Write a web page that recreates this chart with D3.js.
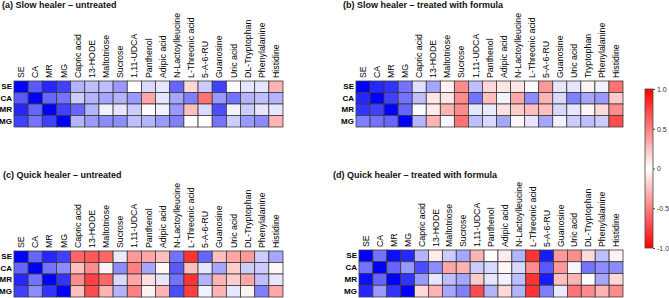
<!DOCTYPE html>
<html><head><meta charset="utf-8">
<script src="https://cdn.jsdelivr.net/npm/d3@7"></script>
<style>
html,body{margin:0;padding:0;background:#fff;}
svg{display:block;font-family:"Liberation Sans",Arial,sans-serif;}
</style></head>
<body><svg id="c" width="669" height="298"></svg>
<script>
const rows = ["SE","CA","MR","MG"];
const colsA = ["SE","CA","MR","MG","Capric acid","13-HODE","Maltotriose","Sucrose","1,11-UDCA","Panthenol","Adipic acid","N-Lactoylleucine","L-Threonic acid","5-A-6-RU","Guanosine","Uric acid","DL-Tryptophan","Phenylalanine","Histidine"];
const colsB = ["SE","CA","MR","MG","Capric acid","13-HODE","Maltotriose","Sucrose","1,11-UDCA","Panthenol","Adipic acid","N-Lactoylleucine","L-Threonic acid","5-A-6-RU","Guanosine","Uric acid","Tryptophan","Phenylalanine","Histidine"];
const titles = ["(a) Slow healer \u2013 untreated","(b) Slow healer \u2013 treated with formula","(c) Quick healer \u2013 untreated","(d) Quick healer \u2013 treated with formula"];

// correlation values (positive = blue, negative = red)
const valuesA = [
 [1.0,0.65,0.85,0.75,0.3,0.25,0.25,0.4,0.0,0.15,0.1,0.6,-0.15,0.2,0.75,0.02,0.1,0.1,-0.3],
 [0.65,1.0,0.6,0.55,0.2,0.3,0.35,0.3,0.4,-0.35,0.1,0.35,0.5,-0.55,0.4,0.55,0.3,0.25,0.3],
 [0.85,0.6,1.0,0.75,0.6,0.3,0.05,0.1,0.2,-0.02,0.05,0.4,-0.25,0.15,0.7,0.05,0.2,0.1,0.1],
 [0.75,0.55,0.75,1.0,0.3,0.4,0.45,0.45,0.25,0.3,0.4,0.5,0.0,0.0,0.55,0.2,0.4,0.45,-0.3]
];
const valuesB = [
 [1.0,0.85,0.8,0.55,0.12,0.35,-0.05,-0.45,0.25,-0.15,-0.1,-0.1,0.02,-0.4,0.1,0.1,-0.05,0.05,-0.55],
 [0.85,1.0,0.75,0.55,0.25,-0.1,-0.1,-0.45,0.55,-0.25,0.05,-0.35,0.45,-0.3,0.15,0.5,0.35,0.4,-0.2],
 [0.8,0.75,1.0,0.6,0.02,-0.08,-0.3,-0.45,0.1,0.08,-0.12,-0.2,-0.25,-0.25,0.15,0.1,-0.03,-0.15,-0.45],
 [0.5,0.55,0.6,1.0,0.3,-0.3,0.03,-0.55,0.25,0.15,0.35,-0.03,0.1,0.35,0.05,0.2,0.25,0.2,-0.7]
];
const valuesC = [
 [1.0,0.6,0.85,0.75,-0.6,-0.65,-0.6,0.08,-0.4,-0.35,-0.25,0.55,-0.8,0.6,-0.25,-0.35,-0.4,0.2,0.35],
 [0.6,1.0,0.55,0.45,-0.25,-0.45,-0.05,0.45,-0.5,0.35,-0.03,0.65,-0.25,0.1,0.35,-0.2,0.2,0.2,-0.03],
 [0.85,0.55,1.0,0.8,-0.45,-0.75,-0.6,0.15,-0.35,-0.12,0.1,0.55,-0.8,0.3,-0.3,-0.2,-0.35,0.25,0.1],
 [0.75,0.45,0.8,1.0,-0.25,-0.7,-0.3,0.3,-0.5,-0.05,-0.3,0.7,-0.75,0.05,-0.3,0.1,-0.05,0.5,-0.35]
];
const valuesD = [
 [1.0,0.55,0.95,0.85,0.3,-0.08,0.2,0.35,-0.3,0.0,-0.08,0.3,-0.8,0.9,-0.4,-0.45,-0.15,0.25,-0.05],
 [0.55,1.0,0.6,0.4,0.7,0.45,-0.35,-0.3,0.2,0.15,-0.03,0.15,-0.45,0.65,-0.4,0.03,0.55,0.45,0.45],
 [0.95,0.6,1.0,0.8,0.4,0.1,0.25,0.35,-0.2,0.1,0.05,0.25,-0.8,0.9,-0.25,-0.3,0.0,0.35,-0.15],
 [0.85,0.4,0.8,1.0,-0.15,-0.3,0.35,0.5,-0.7,0.3,-0.15,0.3,-0.8,0.5,0.08,-0.55,-0.45,-0.3,-0.45]
];
const legendTicks = [1.0,0.5,0,-0.5,-1.0];
const legendLabels = ["1.0","0.5","0","-0.5","-1.0"];

const svg = d3.select("#c");
const color = d3.scaleLinear().domain([-1,0,1]).range(["#ff0000","#ffffff","#0000ff"]);

const panels = [
 {title:titles[0], cols:colsA, vals:valuesA, x:14, y:81, w:269, h:46, tx:2, ty:8},
 {title:titles[1], cols:colsB, vals:valuesB, x:356, y:81, w:267, h:46, tx:343, ty:8},
 {title:titles[2], cols:colsA, vals:valuesC, x:14, y:251, w:269, h:46, tx:3, ty:178},
 {title:titles[3], cols:colsA, vals:valuesD, x:359, y:250, w:264, h:47, tx:333, ty:178}
];

panels.forEach(p => {
  svg.append("text").attr("x", p.tx).attr("y", p.ty)
    .attr("font-size", 9).attr("font-weight", "bold").attr("fill", "#111").text(p.title);
  const g = svg.append("g").attr("transform", `translate(${p.x},${p.y})`);
  const xs = d3.scaleBand().domain(p.cols).range([0, p.w]);
  const ys = d3.scaleBand().domain(rows).range([0, p.h]);
  const cells = [];
  p.vals.forEach((r, i) => r.forEach((v, j) => cells.push({r: rows[i], c: p.cols[j], v})));
  g.selectAll("rect.cell").data(cells).enter().append("rect")
    .attr("class","cell")
    .attr("x", d => xs(d.c)).attr("y", d => ys(d.r))
    .attr("width", xs.bandwidth()).attr("height", ys.bandwidth())
    .attr("fill", d => color(d.v))
    .attr("stroke", "#3a3a3a").attr("stroke-width", 0.8);
  const ax = g.append("g").call(d3.axisTop(xs).tickSize(0).tickPadding(3));
  ax.select(".domain").remove();
  ax.selectAll("text")
    .attr("transform", "rotate(-90)")
    .attr("x", 3).attr("y", 0).attr("dy", "0.35em")
    .attr("text-anchor", "start")
    .attr("font-size", 8.8).attr("fill", "#000")
    .attr("font-family", "'Liberation Sans',Arial,sans-serif");
  const ay = g.append("g").call(d3.axisLeft(ys).tickSize(0).tickPadding(2));
  ay.select(".domain").remove();
  ay.selectAll("text").attr("font-size", 8).attr("font-weight", "bold").attr("fill", "#000")
    .attr("font-family", "'Liberation Sans',Arial,sans-serif");
});

// colour bar
const defs = svg.append("defs");
const grad = defs.append("linearGradient").attr("id","cb").attr("x1",0).attr("y1",0).attr("x2",0).attr("y2",1);
grad.append("stop").attr("offset","0%").attr("stop-color","#ff0000");
grad.append("stop").attr("offset","50%").attr("stop-color","#ffffff");
grad.append("stop").attr("offset","100%").attr("stop-color","#ff0000");
const ly = d3.scaleLinear().domain([-1,1]).range([248,89]);
svg.append("rect").attr("x",645).attr("y",ly(1)).attr("width",8).attr("height",ly(-1)-ly(1))
  .attr("fill","url(#cb)").attr("stroke","#444").attr("stroke-width",0.8);
const la = svg.append("g").attr("transform","translate(653,0)")
  .call(d3.axisRight(ly).tickValues(legendTicks).tickSize(2).tickPadding(2)
    .tickFormat((d,i) => legendLabels[i]));
la.select(".domain").remove();
la.selectAll("line").attr("stroke","#444");
la.selectAll("text").attr("font-size",7).attr("fill","#333")
  .attr("font-family","'Liberation Sans',Arial,sans-serif");
</script></body></html>
